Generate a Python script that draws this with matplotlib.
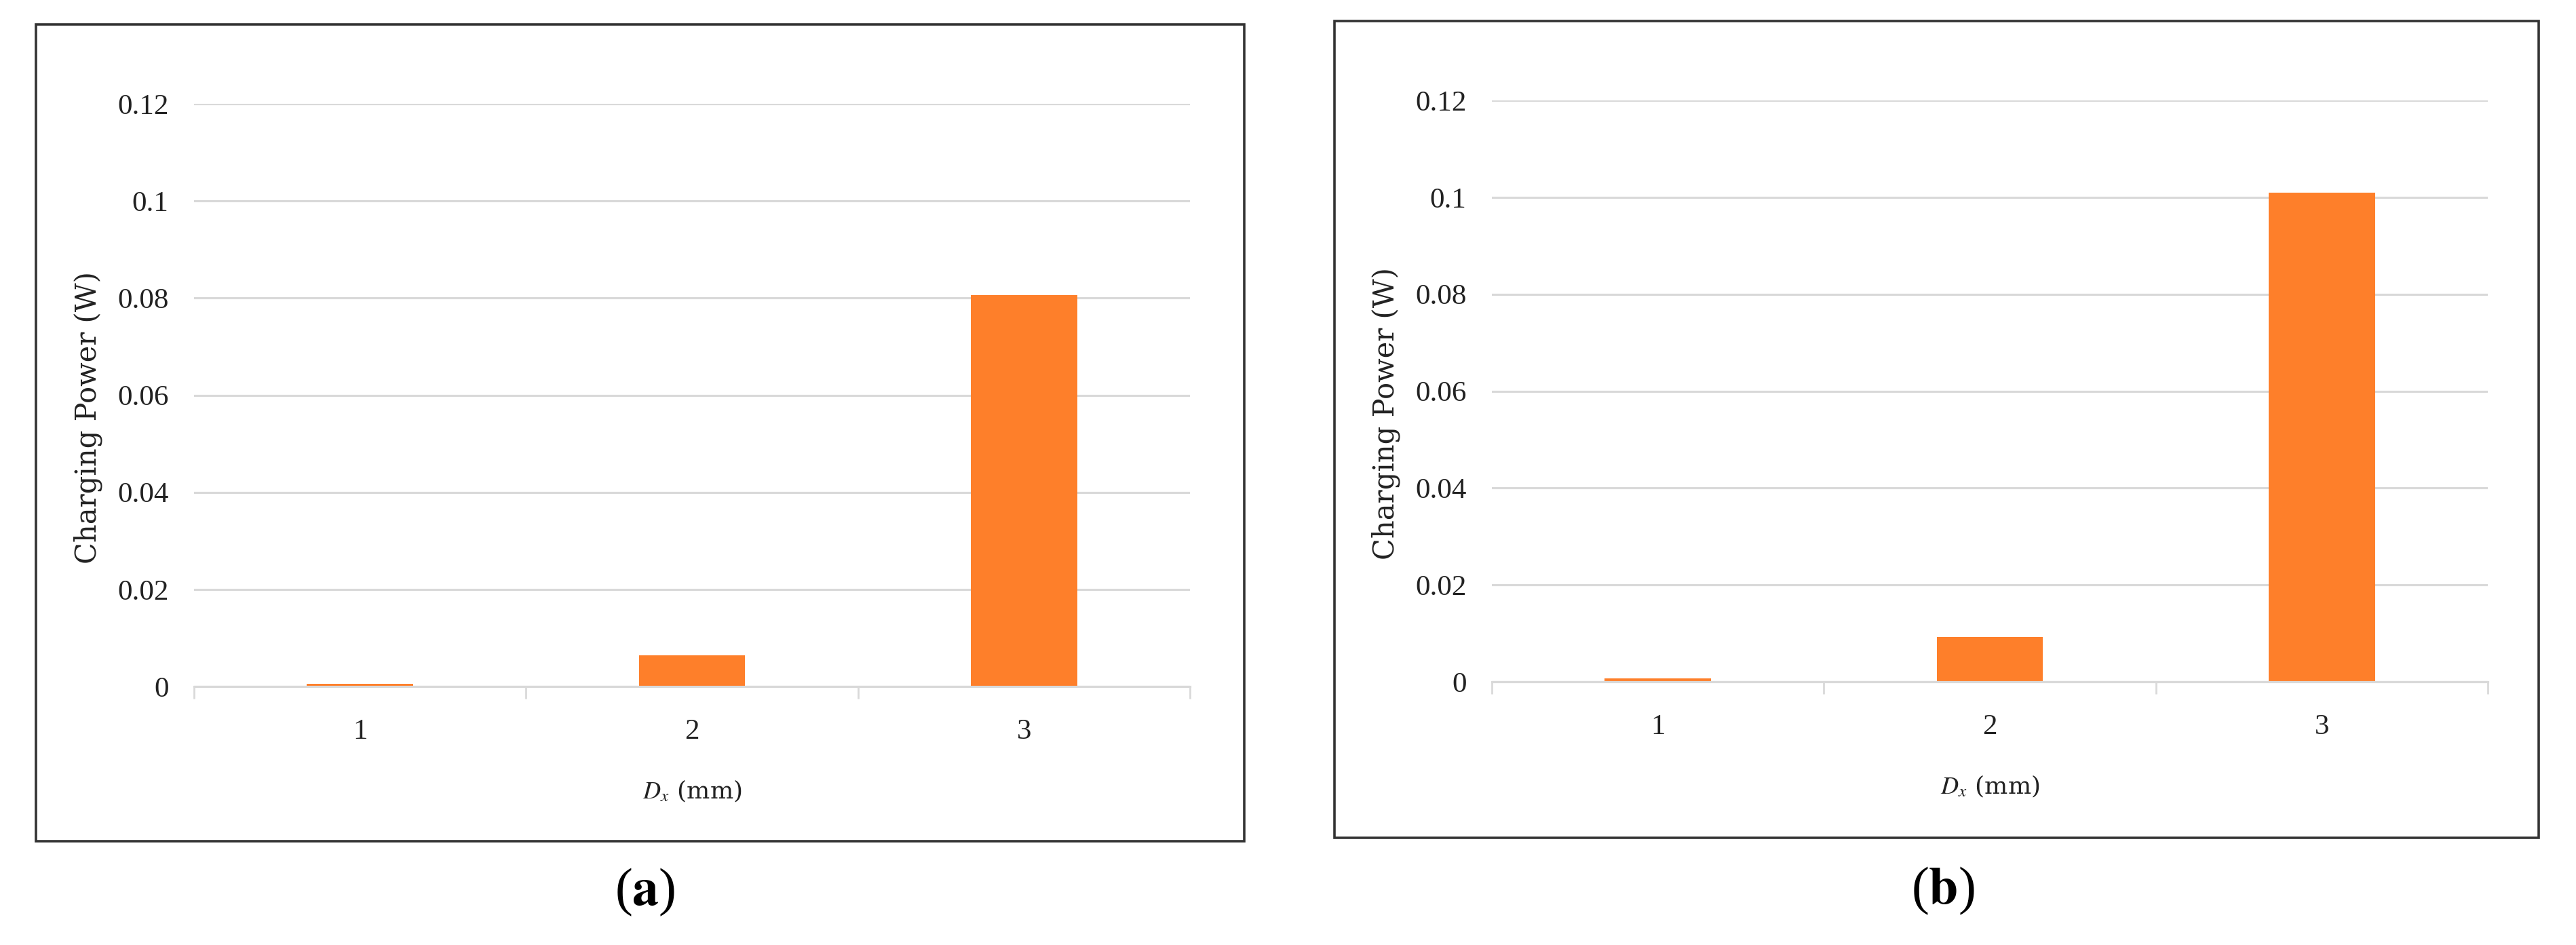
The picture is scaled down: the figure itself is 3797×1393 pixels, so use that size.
import matplotlib
matplotlib.use("Agg")
import matplotlib.pyplot as plt
from matplotlib.patches import Rectangle
from matplotlib.ticker import FuncFormatter

# data
categories = ["1", "2", "3"]
power_a = [0.0005, 0.0064, 0.0806]
power_b = [0.0007, 0.0092, 0.1010]
y_ticks = [0, 0.02, 0.04, 0.06, 0.08, 0.1, 0.12]
captions = ["a", "b"]

W, H = 3798, 1393
plt.rcParams["mathtext.fontset"] = "stix"

fig = plt.figure(figsize=(W / 100, H / 100), dpi=100)

bar_color = "#FE7F2A"
grid_color = "#D9D9D9"
text_color = "#222222"
tick_font = ["Liberation Serif", "DejaVu Serif"]
label_font = ["DejaVu Serif"]

# pixel boxes: (left, right, top, bottom)
panel_boxes = [(53, 1834, 36, 1240), (1967, 3742, 31, 1235)]
plot_boxes = [(286, 1754, 153, 1012), (2199, 3667, 148, 1005)]
caption_pos = [(951, 1315), (2864, 1313)]


def fig_rect(l, r, t, b):
    return [l / W, 1 - b / H, (r - l) / W, (b - t) / H]


def make_panel(i, values):
    bl, br, bt, bb = panel_boxes[i]
    fig.patches.append(Rectangle((bl / W, 1 - bb / H), (br - bl) / W, (bb - bt) / H,
                                 transform=fig.transFigure, fill=False,
                                 edgecolor="#333333", linewidth=2.6))

    ax = fig.add_axes(fig_rect(*plot_boxes[i]))
    x = list(range(len(categories)))
    ax.bar(x, values, width=0.32, color=bar_color, zorder=3)

    ax.set_xlim(-0.5, len(categories) - 0.5)
    ax.set_ylim(0, 0.12)
    ax.set_yticks(y_ticks)
    ax.yaxis.set_major_formatter(FuncFormatter(lambda v, p: f"{v:g}"))
    ax.grid(axis="y", color=grid_color, linewidth=2.3, zorder=0)

    for s in ["top", "right", "left"]:
        ax.spines[s].set_visible(False)
    ax.spines["bottom"].set_color(grid_color)
    ax.spines["bottom"].set_linewidth(2.3)
    ax.spines["bottom"].set_zorder(4)

    # category separators as major ticks, labels on minor ticks
    ax.set_xticks([v - 0.5 for v in range(len(categories) + 1)])
    ax.set_xticklabels([])
    ax.set_xticks(x, minor=True)
    ax.set_xticklabels(categories, minor=True, fontfamily=tick_font, fontsize=31)
    ax.tick_params(axis="x", which="major", length=13, width=2.0, color=grid_color)
    ax.tick_params(axis="x", which="minor", length=0, pad=34, labelcolor=text_color)
    ax.tick_params(axis="y", length=0, pad=27, labelsize=31, labelcolor=text_color)
    for lab in ax.get_yticklabels():
        lab.set_fontfamily(tick_font)

    ax.set_ylabel("Charging Power (W)", fontfamily=label_font, fontsize=30,
                  color=text_color)
    ax.yaxis.set_label_coords(-0.092, 0.462)
    ax.set_xlabel(r"$D_x$ (mm)", fontfamily=label_font, fontsize=26,
                  color=text_color, labelpad=36)

    cx, cy = caption_pos[i]
    fig.text(cx / W, 1 - cy / H, "($\\mathbf{%s}$)" % captions[i],
             fontfamily="Liberation Serif", fontsize=56, ha="center", va="center")
    return ax


make_panel(0, power_a)
make_panel(1, power_b)

fig.savefig("out.png", dpi=100, facecolor="white")
